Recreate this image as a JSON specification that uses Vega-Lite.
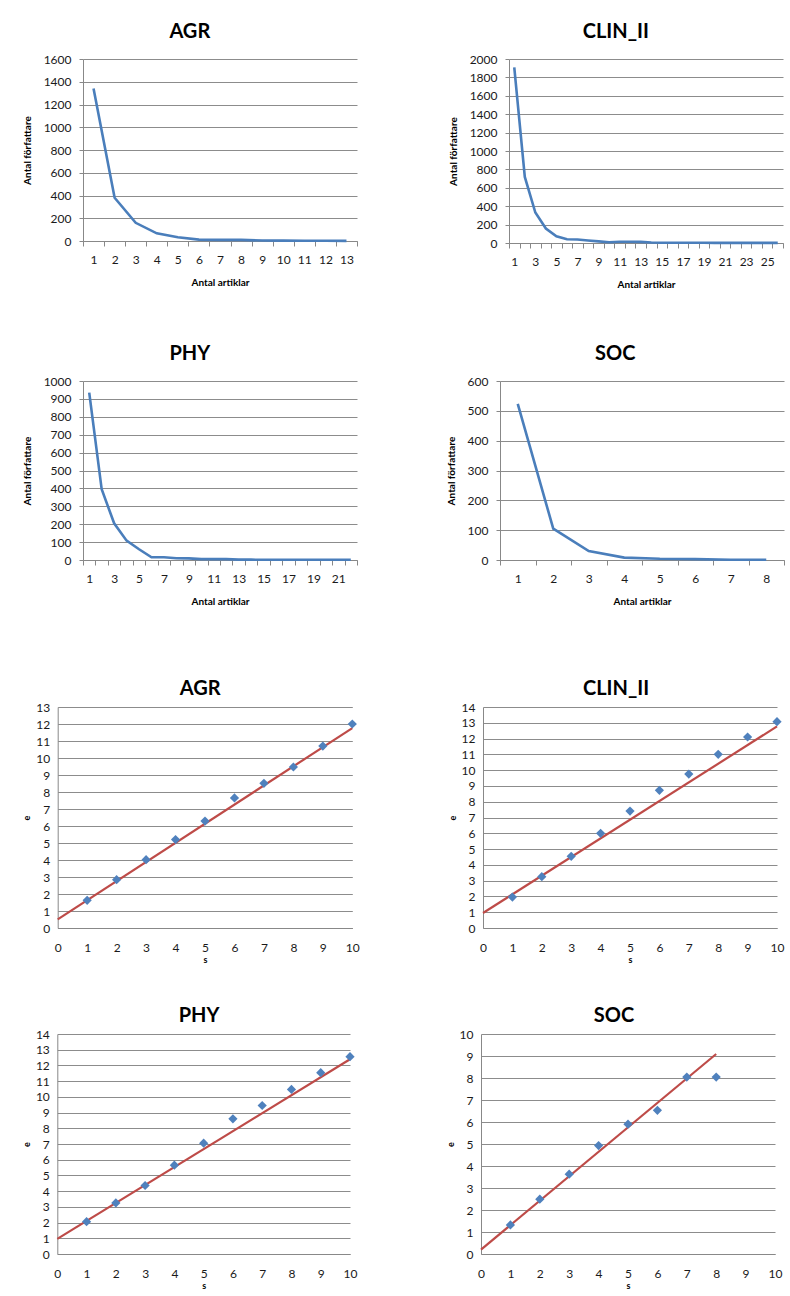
{
  "$schema": "https://vega.github.io/schema/vega-lite/v6.json",
  "padding": {"left": 22, "top": 22, "right": 0, "bottom": 0},
  "background": "white",
  "datasets": {
    "agr_line": [
      {"artiklar": 1, "forfattare": 1340}, {"artiklar": 2, "forfattare": 380}, {"artiklar": 3, "forfattare": 160},
      {"artiklar": 4, "forfattare": 67}, {"artiklar": 5, "forfattare": 33}, {"artiklar": 6, "forfattare": 12},
      {"artiklar": 7, "forfattare": 10}, {"artiklar": 8, "forfattare": 10}, {"artiklar": 9, "forfattare": 4},
      {"artiklar": 10, "forfattare": 3}, {"artiklar": 11, "forfattare": 2}, {"artiklar": 12, "forfattare": 2},
      {"artiklar": 13, "forfattare": 1}
    ],
    "clin_line": [
      {"artiklar": 1, "forfattare": 1910}, {"artiklar": 2, "forfattare": 718}, {"artiklar": 3, "forfattare": 331},
      {"artiklar": 4, "forfattare": 157}, {"artiklar": 5, "forfattare": 73}, {"artiklar": 6, "forfattare": 40},
      {"artiklar": 7, "forfattare": 38}, {"artiklar": 8, "forfattare": 28}, {"artiklar": 9, "forfattare": 18},
      {"artiklar": 10, "forfattare": 8}, {"artiklar": 11, "forfattare": 14}, {"artiklar": 12, "forfattare": 14},
      {"artiklar": 13, "forfattare": 12}, {"artiklar": 14, "forfattare": 5}, {"artiklar": 15, "forfattare": 3},
      {"artiklar": 16, "forfattare": 3}, {"artiklar": 17, "forfattare": 2}, {"artiklar": 18, "forfattare": 2},
      {"artiklar": 19, "forfattare": 2}, {"artiklar": 20, "forfattare": 1}, {"artiklar": 21, "forfattare": 1},
      {"artiklar": 22, "forfattare": 1}, {"artiklar": 23, "forfattare": 1}, {"artiklar": 24, "forfattare": 1},
      {"artiklar": 25, "forfattare": 1}, {"artiklar": 26, "forfattare": 1}
    ],
    "phy_line": [
      {"artiklar": 1, "forfattare": 935}, {"artiklar": 2, "forfattare": 395}, {"artiklar": 3, "forfattare": 205},
      {"artiklar": 4, "forfattare": 108}, {"artiklar": 5, "forfattare": 60}, {"artiklar": 6, "forfattare": 15},
      {"artiklar": 7, "forfattare": 15}, {"artiklar": 8, "forfattare": 10}, {"artiklar": 9, "forfattare": 9},
      {"artiklar": 10, "forfattare": 5}, {"artiklar": 11, "forfattare": 5}, {"artiklar": 12, "forfattare": 5},
      {"artiklar": 13, "forfattare": 2}, {"artiklar": 14, "forfattare": 2}, {"artiklar": 15, "forfattare": 1},
      {"artiklar": 16, "forfattare": 1}, {"artiklar": 17, "forfattare": 1}, {"artiklar": 18, "forfattare": 1},
      {"artiklar": 19, "forfattare": 1}, {"artiklar": 20, "forfattare": 1}, {"artiklar": 21, "forfattare": 1},
      {"artiklar": 22, "forfattare": 1}
    ],
    "soc_line": [
      {"artiklar": 1, "forfattare": 523}, {"artiklar": 2, "forfattare": 105}, {"artiklar": 3, "forfattare": 30},
      {"artiklar": 4, "forfattare": 8}, {"artiklar": 5, "forfattare": 4}, {"artiklar": 6, "forfattare": 3},
      {"artiklar": 7, "forfattare": 1}, {"artiklar": 8, "forfattare": 1}
    ],
    "agr_sc": [
      {"s": 1, "e": 1.63}, {"s": 2, "e": 2.84}, {"s": 3, "e": 4.02}, {"s": 4, "e": 5.2}, {"s": 5, "e": 6.29},
      {"s": 6, "e": 7.65}, {"s": 7, "e": 8.51}, {"s": 8, "e": 9.47}, {"s": 9, "e": 10.7}, {"s": 10, "e": 12.0}
    ],
    "agr_trend": [{"s": 0, "e": 0.51}, {"s": 10, "e": 11.76}],
    "clin_sc": [
      {"s": 1, "e": 1.96}, {"s": 2, "e": 3.25}, {"s": 3, "e": 4.54}, {"s": 4, "e": 6.0}, {"s": 5, "e": 7.41},
      {"s": 6, "e": 8.72}, {"s": 7, "e": 9.75}, {"s": 8, "e": 11.0}, {"s": 9, "e": 12.1}, {"s": 10, "e": 13.07}
    ],
    "clin_trend": [{"s": 0, "e": 0.95}, {"s": 10, "e": 12.77}],
    "phy_sc": [
      {"s": 1, "e": 2.06}, {"s": 2, "e": 3.25}, {"s": 3, "e": 4.36}, {"s": 4, "e": 5.65}, {"s": 5, "e": 7.05},
      {"s": 6, "e": 8.6}, {"s": 7, "e": 9.45}, {"s": 8, "e": 10.47}, {"s": 9, "e": 11.54}, {"s": 10, "e": 12.56}
    ],
    "phy_trend": [{"s": 0, "e": 0.96}, {"s": 10, "e": 12.39}],
    "soc_sc": [
      {"s": 1, "e": 1.32}, {"s": 2, "e": 2.49}, {"s": 3, "e": 3.63}, {"s": 4, "e": 4.93}, {"s": 5, "e": 5.9},
      {"s": 6, "e": 6.53}, {"s": 7, "e": 8.04}, {"s": 8, "e": 8.04}
    ],
    "soc_trend": [{"s": 0, "e": 0.2}, {"s": 8, "e": 9.09}]
  },
  "columns": 1,
  "spacing": 73,
  "align": "none",
  "concat": [
    {
      "columns": 1,
      "spacing": 55,
      "align": "none",
      "concat": [
        {
          "spacing": 90,
          "hconcat": [
            {
              "width": 274, "height": 182, "title": {"text": "AGR", "offset": 11},
              "data": {"name": "agr_line"},
              "mark": {"type": "line", "color": "#4a7ebb", "strokeWidth": 2.6},
              "encoding": {
                "x": {"field": "artiklar", "type": "ordinal", "scale": {"type": "band", "paddingInner": 0, "paddingOuter": 0},
                      "axis": {"title": "Antal artiklar", "labelAngle": 0, "tickBand": "extent", "tickSize": 5, "labelPadding": 8, "titlePadding": 12, "grid": false}},
                "y": {"field": "forfattare", "type": "quantitative", "scale": {"domain": [0, 1600], "nice": false},
                      "axis": {"title": "Antal författare", "format": "d", "values": [0, 200, 400, 600, 800, 1000, 1200, 1400, 1600], "tickSize": 4, "labelPadding": 8, "titlePadding": 11}}
              }
            },
            {
              "width": 274, "height": 184, "title": {"text": "CLIN_II", "offset": 11},
              "data": {"name": "clin_line"},
              "mark": {"type": "line", "color": "#4a7ebb", "strokeWidth": 2.6},
              "encoding": {
                "x": {"field": "artiklar", "type": "ordinal", "scale": {"type": "band", "paddingInner": 0, "paddingOuter": 0},
                      "axis": {"title": "Antal artiklar", "labelAngle": 0, "tickBand": "extent", "tickSize": 5, "labelPadding": 8, "titlePadding": 12, "grid": false,
                               "labelExpr": "datum.value % 2 == 1 ? datum.label : ''"}},
                "y": {"field": "forfattare", "type": "quantitative", "scale": {"domain": [0, 2000], "nice": false},
                      "axis": {"title": "Antal författare", "format": "d", "values": [0, 200, 400, 600, 800, 1000, 1200, 1400, 1600, 1800, 2000], "tickSize": 4, "labelPadding": 8, "titlePadding": 11}}
              }
            }
          ]
        },
        {
          "spacing": 88,
          "hconcat": [
            {
              "width": 274, "height": 179, "title": {"text": "PHY", "offset": 11},
              "data": {"name": "phy_line"},
              "mark": {"type": "line", "color": "#4a7ebb", "strokeWidth": 2.6},
              "encoding": {
                "x": {"field": "artiklar", "type": "ordinal", "scale": {"type": "band", "paddingInner": 0, "paddingOuter": 0},
                      "axis": {"title": "Antal artiklar", "labelAngle": 0, "tickBand": "extent", "tickSize": 5, "labelPadding": 8, "titlePadding": 12, "grid": false,
                               "labelExpr": "datum.value % 2 == 1 ? datum.label : ''"}},
                "y": {"field": "forfattare", "type": "quantitative", "scale": {"domain": [0, 1000], "nice": false},
                      "axis": {"title": "Antal författare", "format": "d", "values": [0, 100, 200, 300, 400, 500, 600, 700, 800, 900, 1000], "tickSize": 4, "labelPadding": 8, "titlePadding": 11}}
              }
            },
            {
              "width": 284, "height": 179, "title": {"text": "SOC", "offset": 11},
              "data": {"name": "soc_line"},
              "mark": {"type": "line", "color": "#4a7ebb", "strokeWidth": 2.6},
              "encoding": {
                "x": {"field": "artiklar", "type": "ordinal", "scale": {"type": "band", "paddingInner": 0, "paddingOuter": 0},
                      "axis": {"title": "Antal artiklar", "labelAngle": 0, "tickBand": "extent", "tickSize": 5, "labelPadding": 8, "titlePadding": 12, "grid": false}},
                "y": {"field": "forfattare", "type": "quantitative", "scale": {"domain": [0, 600], "nice": false},
                      "axis": {"title": "Antal författare", "format": "d", "values": [0, 100, 200, 300, 400, 500, 600], "tickSize": 4, "labelPadding": 8, "titlePadding": 11}}
              }
            }
          ]
        }
      ]
    },
    {
      "columns": 1,
      "spacing": 42,
      "align": "none",
      "concat": [
        {
          "spacing": 70,
          "hconcat": [
            {
              "width": 269, "height": 221, "title": {"text": "AGR", "offset": 2},
              "encoding": {
                "x": {"field": "s", "type": "quantitative", "scale": {"domain": [0, 10], "nice": false, "range": [-25.3, 269.3]},
                      "axis": {"title": "s", "values": [0, 1, 2, 3, 4, 5, 6, 7, 8, 9, 10], "grid": false, "tickSize": 0, "labelPadding": 14, "titlePadding": 2, "titleFontSize": 9}},
                "y": {"field": "e", "type": "quantitative", "scale": {"domain": [0, 13], "nice": false},
                      "axis": {"title": "e", "offset": 25.3, "values": [0, 1, 2, 3, 4, 5, 6, 7, 8, 9, 10, 11, 12, 13], "tickSize": 0, "labelPadding": 8, "titlePadding": 4, "titleFontSize": 9}}
              },
              "layer": [
                {"data": {"name": "agr_trend"}, "mark": {"type": "line", "color": "#be4b48", "strokeWidth": 2.2}},
                {"data": {"name": "agr_sc"}, "mark": {"type": "point", "shape": "diamond", "filled": true, "size": 85, "color": "#4f81bd", "opacity": 1}}
              ]
            },
            {
              "width": 294, "height": 221, "title": {"text": "CLIN_II", "offset": 2},
              "encoding": {
                "x": {"field": "s", "type": "quantitative", "scale": {"domain": [0, 10], "nice": false},
                      "axis": {"title": "s", "values": [0, 1, 2, 3, 4, 5, 6, 7, 8, 9, 10], "grid": false, "tickSize": 0, "labelPadding": 14, "titlePadding": 2, "titleFontSize": 9}},
                "y": {"field": "e", "type": "quantitative", "scale": {"domain": [0, 14], "nice": false},
                      "axis": {"title": "e", "values": [0, 1, 2, 3, 4, 5, 6, 7, 8, 9, 10, 11, 12, 13, 14], "tickSize": 0, "labelPadding": 8, "titlePadding": 4, "titleFontSize": 9}}
              },
              "layer": [
                {"data": {"name": "clin_trend"}, "mark": {"type": "line", "color": "#be4b48", "strokeWidth": 2.2}},
                {"data": {"name": "clin_sc"}, "mark": {"type": "point", "shape": "diamond", "filled": true, "size": 85, "color": "#4f81bd", "opacity": 1}}
              ]
            }
          ]
        },
        {
          "spacing": 70,
          "hconcat": [
            {
              "width": 267, "height": 220, "title": {"text": "PHY", "offset": 2},
              "encoding": {
                "x": {"field": "s", "type": "quantitative", "scale": {"domain": [0, 10], "nice": false, "range": [-25.7, 267]},
                      "axis": {"title": "s", "values": [0, 1, 2, 3, 4, 5, 6, 7, 8, 9, 10], "grid": false, "tickSize": 0, "labelPadding": 14, "titlePadding": 2, "titleFontSize": 9}},
                "y": {"field": "e", "type": "quantitative", "scale": {"domain": [0, 14], "nice": false},
                      "axis": {"title": "e", "offset": 25.7, "values": [0, 1, 2, 3, 4, 5, 6, 7, 8, 9, 10, 11, 12, 13, 14], "tickSize": 0, "labelPadding": 8, "titlePadding": 4, "titleFontSize": 9}}
              },
              "layer": [
                {"data": {"name": "phy_trend"}, "mark": {"type": "line", "color": "#be4b48", "strokeWidth": 2.2}},
                {"data": {"name": "phy_sc"}, "mark": {"type": "point", "shape": "diamond", "filled": true, "size": 85, "color": "#4f81bd", "opacity": 1}}
              ]
            },
            {
              "width": 294, "height": 220, "title": {"text": "SOC", "offset": 2},
              "encoding": {
                "x": {"field": "s", "type": "quantitative", "scale": {"domain": [0, 10], "nice": false},
                      "axis": {"title": "s", "values": [0, 1, 2, 3, 4, 5, 6, 7, 8, 9, 10], "grid": false, "tickSize": 0, "labelPadding": 14, "titlePadding": 2, "titleFontSize": 9}},
                "y": {"field": "e", "type": "quantitative", "scale": {"domain": [0, 10], "nice": false},
                      "axis": {"title": "e", "values": [0, 1, 2, 3, 4, 5, 6, 7, 8, 9, 10], "tickSize": 0, "labelPadding": 8, "titlePadding": 4, "titleFontSize": 9}}
              },
              "layer": [
                {"data": {"name": "soc_trend"}, "mark": {"type": "line", "color": "#be4b48", "strokeWidth": 2.2}},
                {"data": {"name": "soc_sc"}, "mark": {"type": "point", "shape": "diamond", "filled": true, "size": 85, "color": "#4f81bd", "opacity": 1}}
              ]
            }
          ]
        }
      ]
    }
  ],
  "config": {
    "font": "Lato",
    "view": {"stroke": null},
    "axis": {
      "labelFont": "Lato", "labelFontSize": 12, "labelColor": "#1a1a1a",
      "titleFont": "Lato", "titleFontSize": 10, "titleFontWeight": "bold", "titleColor": "#000000",
      "domainColor": "#888888", "tickColor": "#888888", "gridColor": "#8c8c8c", "gridOpacity": 1,
      "labelOverlap": false, "labelFlush": false
    },
    "axisY": {"grid": true},
    "title": {"font": "Lato", "fontSize": 20, "fontWeight": "bold", "color": "#000000", "anchor": "middle", "frame": "bounds"}
  }
}
